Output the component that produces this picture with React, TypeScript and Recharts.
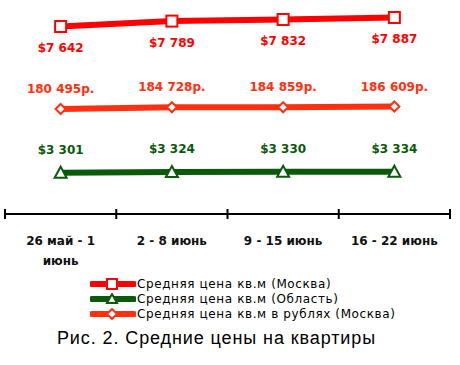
import React from 'react';
import { LineChart, Line, XAxis, YAxis, LabelList } from 'recharts';

// weeks on the category axis ("\n" = line break in the tick)
const weeks = ['26 май - 1\nиюнь', '2 - 8 июнь', '9 - 15 июнь', '16 - 22 июнь'];

// series values
const moscowUsd = [7642, 7789, 7832, 7887];
const moscowRub = [180495, 184728, 184859, 186609];
const oblastUsd = [3301, 3324, 3330, 3334];

const RED = '#ff0000';
const ORANGE = '#ff3010';
const GREEN = '#0b5a0b';
const FONT = '"DejaVu Sans", Verdana, sans-serif';

const data = weeks.map((week, i) => ({
  week,
  usd: moscowUsd[i],
  rub: moscowRub[i],
  obl: oblastUsd[i]
}));

const fmtUsd = (v: number) => '$' + v.toLocaleString('ru-RU').replace(/\s/g, ' ');
const fmtRub = (v: number) => v.toLocaleString('ru-RU').replace(/\s/g, ' ') + 'р.';

const SquareDot = (props: any) => {
  const { cx, cy } = props;
  if (cx == null || cy == null) return null;
  return <rect x={cx - 5.5} y={cy - 5.5} width={11} height={11} fill="#fff" stroke={RED} strokeWidth={2} />;
};

const DiamondDot = (props: any) => {
  const { cx, cy } = props;
  if (cx == null || cy == null) return null;
  return (
    <path
      d={`M${cx},${cy - 5} L${cx + 5},${cy} L${cx},${cy + 5} L${cx - 5},${cy} Z`}
      fill="#fff"
      stroke={ORANGE}
      strokeWidth={2}
    />
  );
};

const TriangleDot = (props: any) => {
  const { cx, cy } = props;
  if (cx == null || cy == null) return null;
  return (
    <path
      d={`M${cx},${cy - 6} L${cx + 6},${cy + 5} L${cx - 6},${cy + 5} Z`}
      fill="#fff"
      stroke={GREEN}
      strokeWidth={2}
    />
  );
};

// category label plus tick marks on the band edges (payload.offset = half band)
const WeekTick = (props: any) => {
  const { x, y, payload, index, visibleTicksCount } = props;
  const half = payload.offset || 0;
  const lines = String(payload.value).split('\n');
  const isLast = index === visibleTicksCount - 1;
  return (
    <g>
      <line x1={x - half} x2={x - half} y1={y - 5} y2={y + 5} stroke="#000" strokeWidth={2} />
      {isLast && <line x1={x + half} x2={x + half} y1={y - 5} y2={y + 5} stroke="#000" strokeWidth={2} />}
      <text x={x} y={y} textAnchor="middle" fontFamily={FONT} fontSize={12} fontWeight="bold" fill="#111">
        {lines.map((l, i) => (
          <tspan key={i} x={x} dy={i === 0 ? 31 : 20}>
            {l}
          </tspan>
        ))}
      </text>
    </g>
  );
};

const legendItems = [
  { name: 'Средняя цена кв.м (Москва)', color: RED, dot: 'square' },
  { name: 'Средняя цена кв.м (Область)', color: GREEN, dot: 'triangle' },
  { name: 'Средняя цена кв.м в рублях (Москва)', color: ORANGE, dot: 'diamond' }
];

const LegendIcon = ({ color, dot }: { color: string; dot: string }) => (
  <svg width={46} height={12} style={{ display: 'block' }}>
    <line x1={2} x2={44} y1={6} y2={6} stroke={color} strokeWidth={6} strokeLinecap="round" />
    {dot === 'square' && <rect x={17} y={1} width={10} height={10} fill="#fff" stroke={color} strokeWidth={2} />}
    {dot === 'triangle' && <path d="M22,1 L27,10 L17,10 Z" fill="#fff" stroke={color} strokeWidth={2} />}
    {dot === 'diamond' && <path d="M22,1 L27,6 L22,11 L17,6 Z" fill="#fff" stroke={color} strokeWidth={2} />}
  </svg>
);

const labelStyle = { fontFamily: FONT, fontSize: 12, fontWeight: 'bold' as const };

export default function App() {
  return (
    <div style={{ position: 'absolute', left: 0, top: 0, width: 460, height: 365, background: '#fff' }}>
      <LineChart width={460} height={276} data={data} margin={{ top: 0, right: 10, left: 5, bottom: 0 }}>
        <XAxis
          dataKey="week"
          scale="band"
          axisLine={{ stroke: '#000', strokeWidth: 2 }}
          tickLine={false}
          tickSize={0}
          tickMargin={0}
          interval={0}
          tick={<WeekTick />}
          height={62}
        />
        <YAxis yAxisId="usd" hide domain={[2542, 8363]} />
        <YAxis yAxisId="rub" hide domain={[-76335, 447109]} />
        <YAxis yAxisId="obl" hide domain={[1938, 8999]} />
        <Line
          yAxisId="usd"
          dataKey="usd"
          stroke={RED}
          strokeWidth={6}
          dot={<SquareDot />}
          isAnimationActive={false}
        >
          <LabelList dataKey="usd" position="bottom" offset={17} formatter={fmtUsd} fill={RED} style={labelStyle} />
        </Line>
        <Line
          yAxisId="rub"
          dataKey="rub"
          stroke={ORANGE}
          strokeWidth={6}
          dot={<DiamondDot />}
          isAnimationActive={false}
        >
          <LabelList dataKey="rub" position="top" offset={16} formatter={fmtRub} fill={ORANGE} style={labelStyle} />
        </Line>
        <Line
          yAxisId="obl"
          dataKey="obl"
          stroke={GREEN}
          strokeWidth={6}
          dot={<TriangleDot />}
          isAnimationActive={false}
        >
          <LabelList dataKey="obl" position="top" offset={19} formatter={fmtUsd} fill={GREEN} style={labelStyle} />
        </Line>
      </LineChart>
      <div style={{ position: 'absolute', left: 90, top: 276, fontFamily: FONT, fontSize: 12, letterSpacing: 0.6 }}>
        {legendItems.map(it => (
          <div key={it.name} style={{ display: 'flex', alignItems: 'center', height: 15 }}>
            <LegendIcon color={it.color} dot={it.dot} />
            <span style={{ marginLeft: 1 }}>{it.name}</span>
          </div>
        ))}
      </div>
      <div
        style={{
          position: 'absolute',
          left: 0,
          width: 433,
          top: 328,
          textAlign: 'center',
          fontFamily: '"Liberation Sans", Arial, sans-serif',
          fontSize: 18,
          letterSpacing: 0.9
        }}
      >
        Рис. 2. Средние цены на квартиры
      </div>
    </div>
  );
}
